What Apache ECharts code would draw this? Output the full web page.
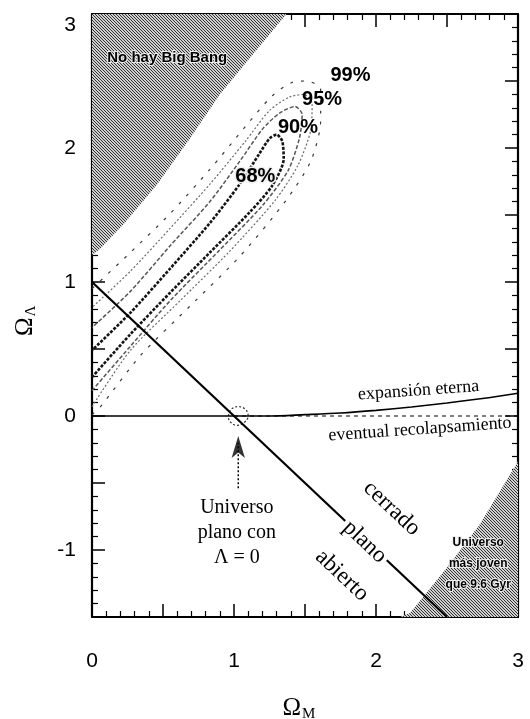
<!DOCTYPE html>
<html>
<head>
<meta charset="utf-8">
<script src="https://cdn.jsdelivr.net/npm/echarts@6/dist/echarts.min.js"></script>
<style>
  html, body { margin: 0; padding: 0; background: #fff; }
  #chart { width: 530px; height: 719px; }
</style>
</head>
<body>
<div id="chart"></div>
<script>
// ---- Data: (Omega_M, Omega_Lambda) pairs ----
const contour68 = [[0,0.29],[0.27,0.61],[0.55,0.92],[0.83,1.22],[1.11,1.52],[1.27,1.72],[1.35,1.92],[1.34,2.05],[1.30,2.10],[1.25,2.07],[1.18,1.96],[1.04,1.73],[0.83,1.44],[0.55,1.10],[0.27,0.77],[0,0.49]];
const contour90 = [[0,0.19],[0.27,0.52],[0.55,0.86],[0.90,1.24],[1.20,1.57],[1.38,1.83],[1.46,2.07],[1.48,2.25],[1.43,2.31],[1.32,2.26],[1.20,2.14],[1.04,1.90],[0.83,1.60],[0.55,1.27],[0.27,0.93],[0,0.66]];
const contour95 = [[0,0.07],[0.27,0.49],[0.62,0.86],[0.97,1.23],[1.29,1.61],[1.45,1.87],[1.54,2.13],[1.55,2.33],[1.49,2.40],[1.39,2.38],[1.25,2.28],[1.08,2.05],[0.83,1.73],[0.55,1.40],[0.27,1.08],[0,0.81]];
const contour99 = [[0,0.01],[0.06,0.07],[0.34,0.45],[0.69,0.82],[1.04,1.19],[1.36,1.60],[1.54,1.90],[1.61,2.20],[1.61,2.44],[1.51,2.50],[1.41,2.49],[1.27,2.39],[1.08,2.16],[0.83,1.84],[0.55,1.51],[0.27,1.22],[0,0.95]];
const flatPointContour = [[0.96,0.0],[0.98,0.05],[1.03,0.07],[1.08,0.05],[1.10,0.0],[1.07,-0.05],[1.02,-0.07],[0.97,-0.04],[0.96,0.0]];
const flatUniverseLine = [[0,1],[2.5,-1.5]];
const expansionBoundary = [[0,0],[1.0,0],[1.25,0.0],[1.5,0.01],[1.75,0.022],[2.0,0.042],[2.25,0.067],[2.5,0.097],[2.75,0.13],[3.0,0.17]];
const recollapseLine = [[1.0,0],[3.0,0]];
const noBigBangRegion = [[0,3],[1.37,3],[1.15,2.72],[0.90,2.40],[0.69,2.07],[0.46,1.73],[0.23,1.44],[0.06,1.25],[0,1.20]];
const youngUniverseRegion = [[3,-0.34],[2.73,-0.81],[2.5,-1.13],[2.24,-1.47],[2.17,-1.5],[3,-1.5]];
const arrowShaft = [[1.03,-0.54],[1.03,-0.2]];
const arrowTip = [[1.03,-0.15]];
const xTickLabels = ['0','1','2','3'];
const yTickLabels = ['-1','0','1','2','3'];

const SERIF = '"Liberation Serif", "Times New Roman", serif';
const SANS = '"Liberation Sans", Arial, sans-serif';
const NARROW = '"Liberation Sans Narrow", "Liberation Sans", Arial, sans-serif';

// diagonal hatch used for the excluded regions
function hatchPattern() {
  const c = document.createElement('canvas');
  c.width = 6; c.height = 6;
  const g = c.getContext('2d');
  g.fillStyle = '#cfcfcf';
  g.fillRect(0, 0, 6, 6);
  g.strokeStyle = '#333';
  g.lineWidth = 1;
  for (let k = -2; k <= 2; k++) {
    g.beginPath();
    g.moveTo(k * 3, 0);
    g.lineTo(k * 3 + 6, 6);
    g.stroke();
  }
  return { image: c, repeat: 'repeat' };
}
const hatch = hatchPattern();

function tickText(list) {
  return v => {
    if (Math.abs(v - Math.round(v)) > 1e-6) return '';
    const s = String(Math.round(v));
    if (!list.includes(s)) return '';
    return s === '3' && list === yTickLabels ? '{top|3}' : s;
  };
}

const chart = echarts.init(document.getElementById('chart'), null, { renderer: 'canvas' });

const axisCommon = {
  type: 'value',
  interval: 0.5,
  axisLine: { show: true, onZero: false, lineStyle: { color: '#000', width: 2.2 } },
  axisTick: { show: true, inside: true, length: 13, lineStyle: { color: '#000', width: 1.5 } },
  minorTick: { show: true, splitNumber: 5, length: 6, lineStyle: { color: '#000', width: 1.2 } },
  splitLine: { show: false },
  minorSplitLine: { show: false }
};

function regionSeries(points) {
  return {
    type: 'custom',
    silent: true,
    z: 1,
    data: [0],
    renderItem: (params, api) => ({
      type: 'polygon',
      shape: { points: points.map(p => api.coord(p)) },
      style: { fill: hatch, stroke: null }
    })
  };
}

function lineSeries(data, style, extra) {
  return Object.assign({
    type: 'line',
    data: data,
    symbol: 'none',
    silent: true,
    z: 3,
    lineStyle: style
  }, extra || {});
}

chart.setOption({
  animation: false,
  grid: { left: 92, right: 12, top: 14, bottom: 102 },
  xAxis: [
    Object.assign({}, axisCommon, {
      min: 0, max: 3, position: 'bottom',
      axisLabel: { formatter: tickText(xTickLabels), fontSize: 21, fontFamily: SANS, color: '#000', margin: 34 }
    }),
    Object.assign({}, axisCommon, {
      min: 0, max: 3, position: 'top', axisLabel: { show: false }
    })
  ],
  yAxis: [
    Object.assign({}, axisCommon, {
      min: -1.5, max: 3, position: 'left',
      axisLabel: {
        formatter: tickText(yTickLabels), fontSize: 21, fontFamily: SANS, color: '#000', margin: 16,
        rich: { top: { fontSize: 21, fontFamily: SANS, color: '#000', padding: [22, 0, 0, 0] } }
      }
    }),
    Object.assign({}, axisCommon, {
      min: -1.5, max: 3, position: 'right', axisLabel: { show: false }
    })
  ],
  series: [
    regionSeries(noBigBangRegion),
    regionSeries(youngUniverseRegion),
    lineSeries(contour99, { color: '#3a3a3a', width: 1.2, type: [3, 8] }, { smooth: 0.25 }),
    lineSeries(contour95, { color: '#6a6a6a', width: 1.2, type: [2, 2] }, { smooth: 0.25 }),
    lineSeries(contour90, { color: '#555', width: 1.5, type: [4, 2] }, { smooth: 0.25 }),
    lineSeries(contour68, { color: '#141414', width: 2.6, type: [3, 1.5] }, { smooth: 0.25 }),
    lineSeries(flatPointContour, { color: '#333', width: 1.2, type: [2, 2] }, { smooth: 0.4 }),
    lineSeries(recollapseLine, { color: '#000', width: 1.2, type: [4, 4] }),
    lineSeries(expansionBoundary, { color: '#000', width: 1.6 }, { smooth: 0.3 }),
    lineSeries(flatUniverseLine, { color: '#000', width: 2.2 }, { z: 4 }),
    lineSeries(arrowShaft, { color: '#000', width: 1.5, type: [2, 2] }),
    {
      type: 'scatter', data: arrowTip, silent: true, z: 5,
      symbol: 'arrow', symbolSize: [10, 22],
      itemStyle: { color: '#000' }
    }
  ]
});

// annotations anchored in data space
const px = p => chart.convertToPixel({ gridIndex: 0 }, p);
const lineAngle = -Math.atan2(134, 142);

const notes = [
  { text: 'No hay Big Bang', at: [0.53, 2.67], font: 'bold 15px ' + NARROW, halo: 2 },
  { text: '99%', at: [1.82, 2.54], font: 'bold 20px ' + NARROW },
  { text: '95%', at: [1.62, 2.36], font: 'bold 20px ' + NARROW },
  { text: '90%', at: [1.45, 2.15], font: 'bold 20px ' + NARROW },
  { text: '68%', at: [1.15, 1.79], font: 'bold 20px ' + NARROW, halo: 3 },
  { text: 'expansión eterna', at: [2.30, 0.19], font: '18px ' + SERIF, rot: 0.07 },
  { text: 'eventual recolapsamiento', at: [2.31, -0.10], font: '18px ' + SERIF, rot: 0.07 },
  { text: 'Universo\nplano con\nΛ = 0', at: [1.02, -0.87], font: '20px ' + SERIF, lh: 25 },
  { text: 'cerrado', at: [2.11, -0.69], font: '23px ' + SERIF, rot: lineAngle },
  { text: 'plano', at: [1.92, -0.94], font: '23px ' + SERIF, rot: lineAngle, bg: true },
  { text: 'abierto', at: [1.76, -1.19], font: '23px ' + SERIF, rot: lineAngle },
  { text: 'Universo\nmás joven\nque 9.6 Gyr', at: [2.72, -1.10], font: 'bold 12px ' + NARROW, lh: 21, halo: 2 }
];

const graphics = notes.map(n => {
  const p = px(n.at);
  const style = {
    text: n.text, font: n.font, fill: '#000',
    align: 'center', verticalAlign: 'middle'
  };
  if (n.lh) style.lineHeight = n.lh;
  if (n.halo) { style.stroke = '#eee'; style.lineWidth = n.halo; style.strokeFirst = true; }
  if (n.bg) { style.backgroundColor = '#fff'; style.padding = [0, 3]; }
  return { type: 'text', x: p[0], y: p[1], rotation: n.rot || 0, style: style, z: 10, silent: true };
});

// axis titles with subscripts
const gx = px([1.5, -1.5]);
const gy = px([0, 0.75]);
graphics.push({
  type: 'group', x: gx[0], y: 708, silent: true,
  children: [
    { type: 'text', x: -4, y: 0, style: { text: 'Ω', font: '25px ' + SERIF, fill: '#000', align: 'right', verticalAlign: 'middle' } },
    { type: 'text', x: -3, y: 6, style: { text: 'M', font: '15px ' + SERIF, fill: '#000', align: 'left', verticalAlign: 'middle' } }
  ]
});
graphics.push({
  type: 'group', x: 25, y: gy[1], rotation: Math.PI / 2, silent: true,
  children: [
    { type: 'text', x: -2, y: 0, style: { text: 'Ω', font: '25px ' + SERIF, fill: '#000', align: 'right', verticalAlign: 'middle' } },
    { type: 'text', x: -1, y: 6, style: { text: 'Λ', font: '15px ' + SERIF, fill: '#000', align: 'left', verticalAlign: 'middle' } }
  ]
});

chart.setOption({ graphic: graphics });
</script>
</body>
</html>
